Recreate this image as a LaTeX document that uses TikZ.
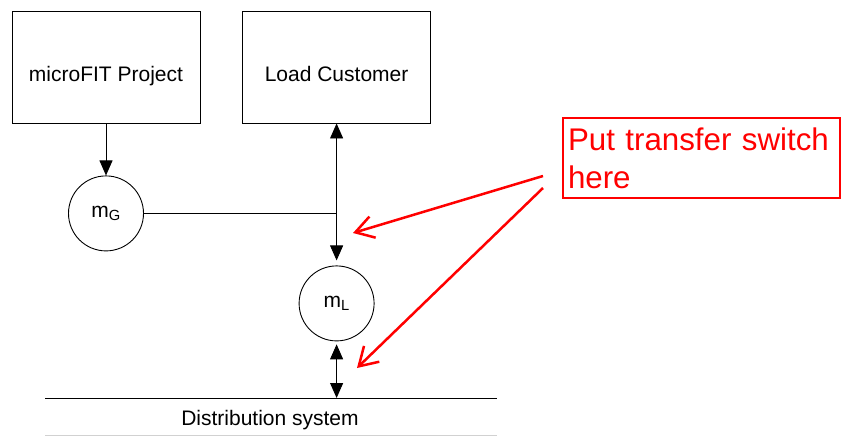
\documentclass[tikz,border=0pt]{standalone}
\usepackage{fontspec}
\setmainfont{Liberation Sans}
\usepackage{tikz}
\usetikzlibrary{positioning,arrows.meta}
\definecolor{noteclr}{rgb}{1, 0, 0}
\definecolor{railclr}{rgb}{0.82, 0.82, 0.82}
\tikzset{ %
  ,>={Triangle[length=15pt,width=13pt]}
  ,every node/.style={font=\fontsize{21}{25}\selectfont}
  ,block/.style={draw, rectangle, minimum width=188pt, minimum height=112pt, inner sep=0, text height=30pt, text depth=1pt, node distance=41.7pt}
  ,meter/.style={draw, circle, inner sep=0, minimum size=75pt}
  ,note/.style={draw=noteclr, line width=2pt, text=noteclr, align=left, text width=267pt, inner xsep=5pt, minimum height=80pt, font=\fontsize{31.3}{38}\selectfont}
  ,hint/.style={draw=noteclr, line width=2.5pt, -{Straight Barb[length=18pt,width=22pt]}}
}

\begin{document}
\begin{tikzpicture}[x=1pt,y=-1pt,line width=0.9pt]
      \useasboundingbox (0,0) rectangle (845,436);
      \draw 
      node[block] (proj) at (106,67) {microFIT Project}
      node[block, right=of proj] (load) {Load Customer}
      node[meter, below=52pt of proj] (mG) {m\textsubscript{G}}
      node[meter, below=142pt of load] (mL) {m\textsubscript{L}}
      node[note, anchor=west] (note) at (562,158) {Put transfer switch\\here};
      \coordinate (railW) at (45,398);
      \coordinate (railE) at (497,398);
      \coordinate (baseW) at (45,435);
      \coordinate (baseE) at (497,435);
      \node (dist) at (270,420) {Distribution system};
      \coordinate (spotA) at (353,233);
      \coordinate (spotB) at (357,368);
      \draw [->] (proj) edge (mG);
      \draw [<->] (load) edge[shorten >=5pt] (mL) (mL) edge[shorten <=3pt] (mL |- railW);
      \draw (mG) -- (mG -| load);
      \draw (railW) -- (railE);
      \draw [railclr] (baseW) -- (baseE);
      \draw [hint] ([shift={(-19,18)}]note.west) -- (spotA);
      \draw [hint] ([shift={(-19,30)}]note.west) -- (spotB);
    \end{tikzpicture}
\end{document}
